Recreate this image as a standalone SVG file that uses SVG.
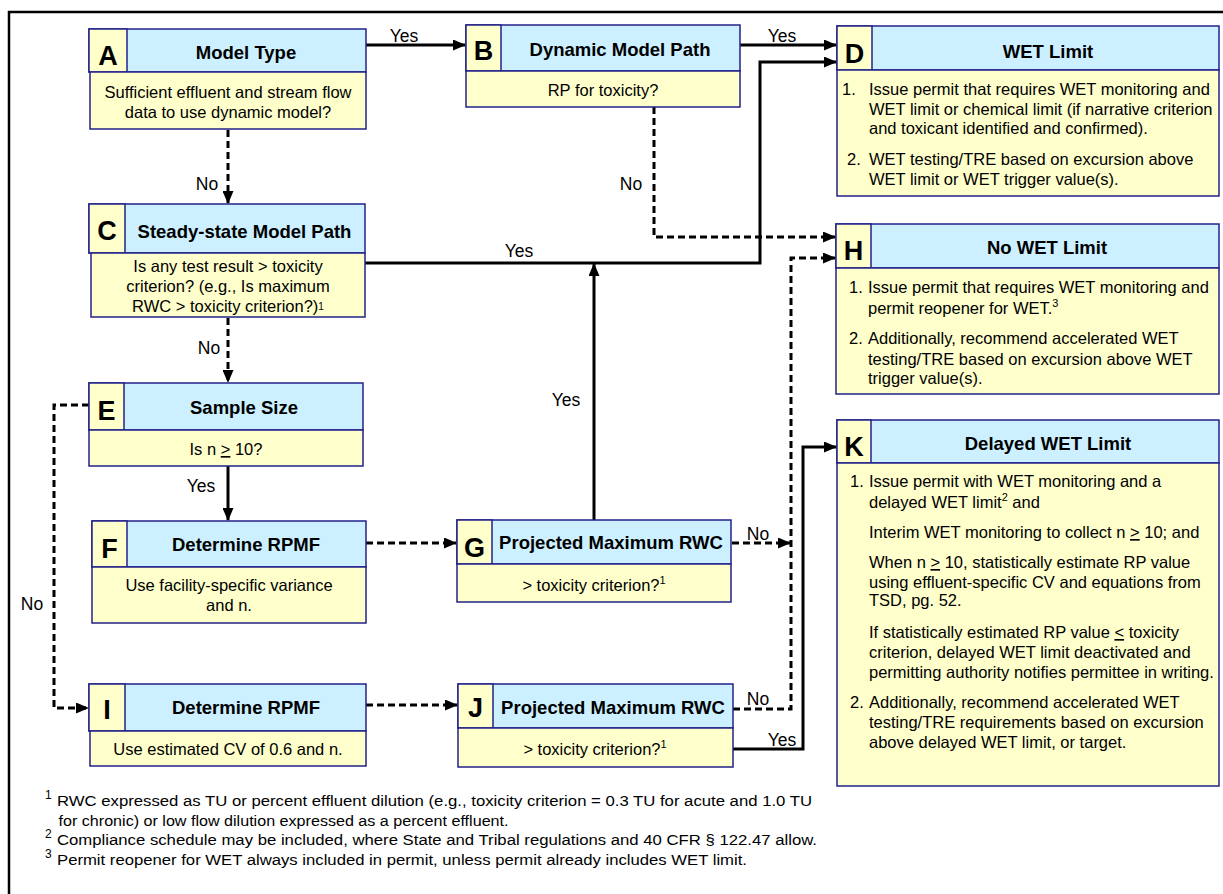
<svg xmlns="http://www.w3.org/2000/svg" width="1223" height="894" viewBox="0 0 1223 894">
<style>
.hd{fill:#CCF0FF;stroke:#22228A;stroke-width:1.5}
.bd{fill:#FFFFCC;stroke:#22228A;stroke-width:1.5}
.lt{font-family:"Liberation Sans",Arial,sans-serif;font-weight:bold;font-size:27px;text-anchor:middle;fill:#000}
.tt{font-family:"Liberation Sans",Arial,sans-serif;font-weight:bold;font-size:18.5px;text-anchor:middle;fill:#000}
.tx{font-family:"Liberation Sans",Arial,sans-serif;font-size:16.5px;fill:#000}
.c{text-anchor:middle}
.lb{font-family:"Liberation Sans",Arial,sans-serif;font-size:17.5px;fill:#000}
.fn{font-family:"Liberation Sans",Arial,sans-serif;font-size:15.5px;fill:#000}
.sup{font-family:"Liberation Sans",Arial,sans-serif;font-size:12px;fill:#000}
.s{fill:none;stroke:#000;stroke-width:3}
.d{fill:none;stroke:#000;stroke-width:3;stroke-dasharray:7 4}
</style>
<defs>
<marker id="ah" markerUnits="userSpaceOnUse" markerWidth="13" markerHeight="11" refX="12" refY="5.5" orient="auto">
<path d="M0,0 L13,5.5 L0,11 Z" fill="#000"/>
</marker>
</defs>
<rect x="9" y="12" width="1230" height="900" fill="none" stroke="#000" stroke-width="2.5"/>

<g id="connectors">
<line class="s" x1="366" y1="45" x2="465" y2="45" marker-end="url(#ah)"/>
<line class="s" x1="740" y1="45" x2="836" y2="45" marker-end="url(#ah)"/>
<line class="d" x1="228" y1="130" x2="228" y2="203" marker-end="url(#ah)"/>
<polyline class="d" points="654,107 654,237 835,237" marker-end="url(#ah)"/>
<polyline class="s" points="365,263 760,263 760,62 836,62" marker-end="url(#ah)"/>
<line class="s" x1="594" y1="520" x2="594" y2="264" marker-end="url(#ah)"/>
<line class="d" x1="228" y1="318" x2="228" y2="382" marker-end="url(#ah)"/>
<line class="s" x1="228" y1="466" x2="228" y2="520" marker-end="url(#ah)"/>
<polyline class="d" points="89,405 54,405 54,708 88,708" marker-end="url(#ah)"/>
<line class="d" x1="366" y1="543" x2="456" y2="543" marker-end="url(#ah)"/>
<line class="d" x1="732" y1="543" x2="790" y2="543" marker-end="url(#ah)"/>
<polyline class="d" points="733,709 791,709 791,258 835,258" marker-end="url(#ah)"/>
<line class="d" x1="366" y1="705" x2="457" y2="705" marker-end="url(#ah)"/>
<polyline class="s" points="733,749 803,749 803,447 836,447" marker-end="url(#ah)"/>
<text class="lb c" x="404" y="42">Yes</text>
<text class="lb c" x="782" y="42">Yes</text>
<text class="lb c" x="207" y="190">No</text>
<text class="lb c" x="631" y="190">No</text>
<text class="lb c" x="519" y="257">Yes</text>
<text class="lb c" x="566" y="406">Yes</text>
<text class="lb c" x="209" y="354">No</text>
<text class="lb c" x="201" y="492">Yes</text>
<text class="lb c" x="32" y="610">No</text>
<text class="lb c" x="758" y="540">No</text>
<text class="lb c" x="758" y="705">No</text>
<text class="lb c" x="782" y="746">Yes</text>
</g>

<g id="node-A">
<rect class="hd" x="89" y="29" width="277" height="43"/>
<rect class="bd" x="89" y="29" width="38" height="43"/>
<rect class="bd" x="90" y="72" width="276" height="57"/>
<text class="lt" x="108" y="65">A</text>
<text class="tt" x="246" y="58.5">Model Type</text>
<text class="tx c" x="228" y="98">Sufficient effluent and stream flow</text>
<text class="tx c" x="228" y="118">data to use dynamic model?</text>
</g>

<g id="node-B">
<rect class="hd" x="466" y="25" width="274" height="46"/>
<rect class="bd" x="466" y="25" width="35" height="46"/>
<rect class="bd" x="466" y="71" width="274" height="36"/>
<text class="lt" x="483.5" y="60">B</text>
<text class="tt" x="620" y="55.5">Dynamic Model Path</text>
<text class="tx c" x="603" y="96">RP for toxicity?</text>
</g>

<g id="node-C">
<rect class="hd" x="89" y="204" width="276" height="49"/>
<rect class="bd" x="89" y="204" width="36" height="49"/>
<rect class="bd" x="91" y="253" width="274" height="64"/>
<text class="lt" x="107" y="240">C</text>
<text class="tt" x="244.5" y="237.5">Steady-state Model Path</text>
<text class="tx c" x="228" y="272">Is any test result &gt; toxicity</text>
<text class="tx c" x="228" y="292">criterion? (e.g., Is maximum</text>
<text class="tx c" x="228" y="312">RWC &gt; toxicity criterion?)<tspan font-size="10" dy="-2">1</tspan></text>
</g>

<g id="node-D">
<rect class="hd" x="837" y="26" width="382" height="44"/>
<rect class="bd" x="837" y="26" width="35" height="44"/>
<rect class="bd" x="837" y="70" width="382" height="126"/>
<text class="lt" x="854.5" y="63">D</text>
<text class="tt" x="1048" y="57.5">WET Limit</text>
<text class="tx" x="842" y="95">1.</text>
<text class="tx" x="869" y="95">Issue permit that requires WET monitoring and</text>
<text class="tx" x="869" y="115">WET limit or chemical limit (if narrative criterion</text>
<text class="tx" x="869" y="134">and toxicant identified and confirmed).</text>
<text class="tx" x="847" y="165">2.</text>
<text class="tx" x="869" y="165">WET testing/TRE based on excursion above</text>
<text class="tx" x="869" y="185">WET limit or WET trigger value(s).</text>
</g>

<g id="node-H">
<rect class="hd" x="836" y="224" width="383" height="44"/>
<rect class="bd" x="836" y="224" width="35" height="44"/>
<rect class="bd" x="836" y="268" width="383" height="126"/>
<text class="lt" x="853.5" y="260">H</text>
<text class="tt" x="1047" y="253.5">No WET Limit</text>
<text class="tx" x="849" y="293">1.</text>
<text class="tx" x="868" y="293">Issue permit that requires WET monitoring and</text>
<text class="tx" x="868" y="314">permit reopener for WET.<tspan font-size="11" dy="-7">3</tspan></text>
<text class="tx" x="849" y="344">2.</text>
<text class="tx" x="868" y="344">Additionally, recommend accelerated WET</text>
<text class="tx" x="868" y="365">testing/TRE based on excursion above WET</text>
<text class="tx" x="868" y="384">trigger value(s).</text>
</g>

<g id="node-E">
<rect class="hd" x="89" y="383" width="274" height="47"/>
<rect class="bd" x="89" y="383" width="35" height="47"/>
<rect class="bd" x="89" y="430" width="274" height="36"/>
<text class="lt" x="106.5" y="420">E</text>
<text class="tt" x="244" y="413.5">Sample Size</text>
<text class="tx c" x="226" y="455">Is n <tspan text-decoration="underline">&gt;</tspan> 10?</text>
</g>

<g id="node-F">
<rect class="hd" x="92" y="521" width="274" height="46"/>
<rect class="bd" x="92" y="521" width="35" height="46"/>
<rect class="bd" x="92" y="567" width="274" height="56"/>
<text class="lt" x="109.5" y="558">F</text>
<text class="tt" x="246" y="550.5">Determine RPMF</text>
<text class="tx c" x="229" y="591">Use facility-specific variance</text>
<text class="tx c" x="229" y="611">and n.</text>
</g>

<g id="node-G">
<rect class="hd" x="457" y="520" width="274" height="44"/>
<rect class="bd" x="457" y="520" width="35" height="44"/>
<rect class="bd" x="457" y="564" width="274" height="38"/>
<text class="lt" x="474.5" y="557">G</text>
<text class="tt" x="611" y="548.5">Projected Maximum RWC</text>
<text class="tx c" x="594" y="591">&gt; toxicity criterion?<tspan font-size="11" dy="-7">1</tspan></text>
</g>

<g id="node-K">
<rect class="hd" x="837" y="420" width="382" height="43"/>
<rect class="bd" x="837" y="420" width="34" height="43"/>
<rect class="bd" x="837" y="463" width="382" height="323"/>
<text class="lt" x="854" y="456">K</text>
<text class="tt" x="1048" y="449.5">Delayed WET Limit</text>
<text class="tx" x="850" y="487">1.</text>
<text class="tx" x="869" y="487">Issue permit with WET monitoring and a</text>
<text class="tx" x="869" y="508">delayed WET limit<tspan font-size="11" dy="-7">2</tspan><tspan dy="7"> and</tspan></text>
<text class="tx" x="869" y="538">Interim WET monitoring to collect n <tspan text-decoration="underline">&gt;</tspan> 10; and</text>
<text class="tx" x="869" y="568">When n <tspan text-decoration="underline">&gt;</tspan> 10, statistically estimate RP value</text>
<text class="tx" x="869" y="588">using effluent-specific CV and equations from</text>
<text class="tx" x="869" y="606">TSD, pg. 52.</text>
<text class="tx" x="869" y="638">If statistically estimated RP value <tspan text-decoration="underline">&lt;</tspan> toxicity</text>
<text class="tx" x="869" y="658">criterion, delayed WET limit deactivated and</text>
<text class="tx" x="869" y="678">permitting authority notifies permittee in writing.</text>
<text class="tx" x="850" y="708">2.</text>
<text class="tx" x="869" y="708">Additionally, recommend accelerated WET</text>
<text class="tx" x="869" y="728">testing/TRE requirements based on excursion</text>
<text class="tx" x="869" y="748">above delayed WET limit, or target.</text>
</g>

<g id="node-I">
<rect class="hd" x="89" y="684" width="277" height="47"/>
<rect class="bd" x="89" y="684" width="36" height="47"/>
<rect class="bd" x="90" y="731" width="276" height="35"/>
<text class="lt" x="107" y="719">I</text>
<text class="tt" x="246" y="713.5">Determine RPMF</text>
<text class="tx c" x="228" y="755">Use estimated CV of 0.6 and n.</text>
</g>

<g id="node-J">
<rect class="hd" x="458" y="684" width="275" height="44"/>
<rect class="bd" x="458" y="684" width="35" height="44"/>
<rect class="bd" x="458" y="728" width="275" height="39"/>
<text class="lt" x="475.5" y="717">J</text>
<text class="tt" x="613" y="713.5">Projected Maximum RWC</text>
<text class="tx c" x="595" y="755">&gt; toxicity criterion?<tspan font-size="11" dy="-7">1</tspan></text>
</g>

<g id="footnotes">
<text class="sup" x="45" y="799">1</text>
<text class="fn" x="57" y="806" textLength="755" lengthAdjust="spacingAndGlyphs">RWC expressed as TU or percent effluent dilution (e.g., toxicity criterion = 0.3 TU for acute and 1.0 TU</text>
<text class="fn" x="58.5" y="826" textLength="450" lengthAdjust="spacingAndGlyphs">for chronic) or low flow dilution expressed as a percent effluent.</text>
<text class="sup" x="45" y="838">2</text>
<text class="fn" x="57" y="845" textLength="760" lengthAdjust="spacingAndGlyphs">Compliance schedule may be included, where State and Tribal regulations and 40 CFR § 122.47 allow.</text>
<text class="sup" x="45" y="858">3</text>
<text class="fn" x="57" y="865" textLength="690" lengthAdjust="spacingAndGlyphs">Permit reopener for WET always included in permit, unless permit already includes WET limit.</text>
</g>
</svg>
